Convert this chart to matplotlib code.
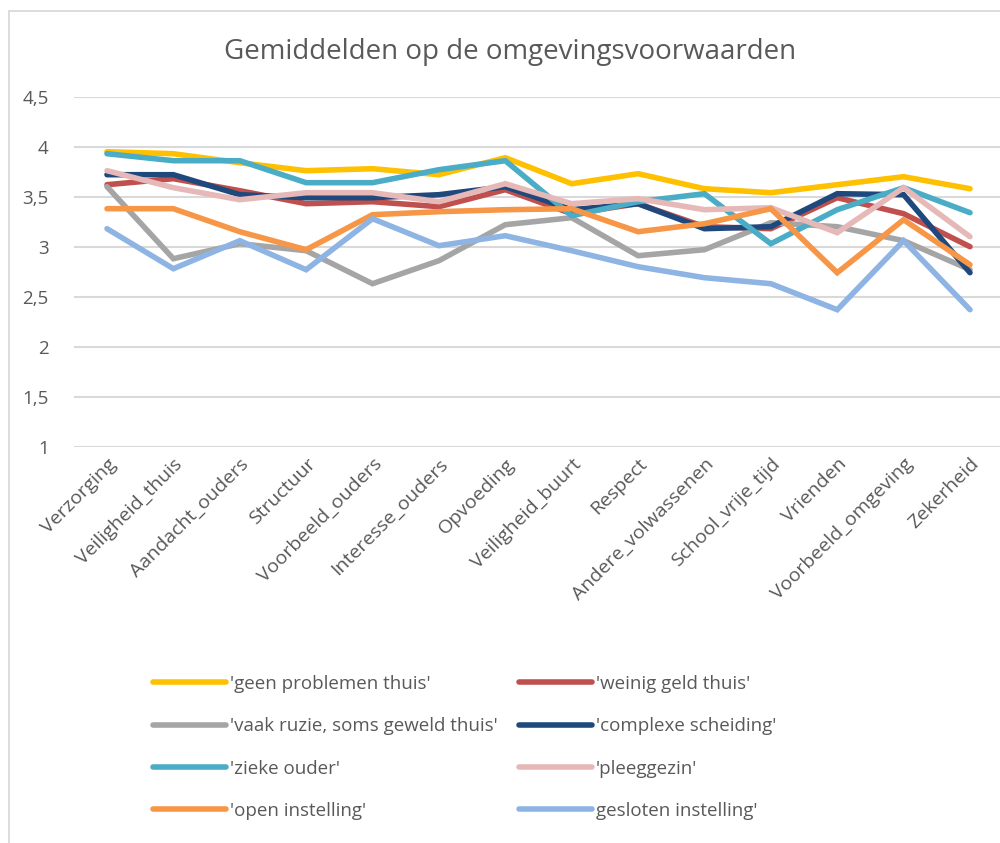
import matplotlib
matplotlib.use("Agg")
import matplotlib.pyplot as plt
from matplotlib.patches import Rectangle

plt.rcParams['font.family'] = ['Open Sans', 'DejaVu Sans']

categories = ['Verzorging', 'Veiligheid_thuis', 'Aandacht_ouders', 'Structuur',
              'Voorbeeld_ouders', 'Interesse_ouders', 'Opvoeding', 'Veiligheid_buurt',
              'Respect', 'Andere_volwassenen', 'School_vrije_tijd', 'Vrienden',
              'Voorbeeld_omgeving', 'Zekerheid']

geen_problemen = [3.95, 3.93, 3.84, 3.76, 3.78, 3.72, 3.89, 3.63, 3.73, 3.58, 3.54, 3.62, 3.70, 3.58]
weinig_geld    = [3.62, 3.68, 3.56, 3.43, 3.45, 3.40, 3.57, 3.33, 3.43, 3.20, 3.18, 3.49, 3.33, 3.00]
vaak_ruzie     = [3.60, 2.88, 3.03, 2.96, 2.63, 2.86, 3.22, 3.29, 2.91, 2.97, 3.24, 3.20, 3.06, 2.77]
complexe_sch   = [3.72, 3.72, 3.52, 3.49, 3.49, 3.52, 3.60, 3.37, 3.43, 3.18, 3.20, 3.53, 3.52, 2.74]
zieke_ouder    = [3.93, 3.86, 3.86, 3.64, 3.64, 3.77, 3.86, 3.31, 3.45, 3.53, 3.03, 3.37, 3.59, 3.34]
pleeggezin     = [3.76, 3.59, 3.47, 3.54, 3.54, 3.45, 3.63, 3.43, 3.48, 3.37, 3.39, 3.14, 3.59, 3.10]
open_inst      = [3.38, 3.38, 3.15, 2.97, 3.32, 3.35, 3.37, 3.38, 3.15, 3.23, 3.38, 2.74, 3.27, 2.82]
gesloten_inst  = [3.18, 2.78, 3.06, 2.77, 3.28, 3.01, 3.11, 2.96, 2.80, 2.69, 2.63, 2.37, 3.06, 2.37]

series = [
    ("'geen problemen thuis'", geen_problemen, '#FFC000'),
    ("'weinig geld thuis'", weinig_geld, '#C0504D'),
    ("'vaak ruzie, soms geweld thuis'", vaak_ruzie, '#A5A5A5'),
    ("'complexe scheiding'", complexe_sch, '#1F497D'),
    ("'zieke ouder'", zieke_ouder, '#4BACC6'),
    ("'pleeggezin'", pleeggezin, '#E6B9B8'),
    ("'open instelling'", open_inst, '#F79646'),
    ("gesloten instelling'", gesloten_inst, '#8EB4E3'),
]

W, H = 1000, 843
fig = plt.figure(figsize=(W / 100, H / 100), dpi=100)

# chart frame
fig.patches.append(Rectangle((8.5 / W, -0.1), 1.2, 1.1 - 11.5 / H, transform=fig.transFigure,
                             fill=False, edgecolor='#D9D9D9', linewidth=1.3))

ax = fig.add_axes([73.8 / W, (H - 446.7) / H, 929.4 / W, 350 / H])
x = list(range(len(categories)))
for name, vals, col in series:
    ax.plot(x, vals, color=col, linewidth=4, label=name, solid_capstyle='round',
            solid_joinstyle='miter')

ax.set_xlim(-0.5, len(categories) - 0.5)
ax.set_ylim(1, 4.5)
ax.set_yticks([1, 1.5, 2, 2.5, 3, 3.5, 4, 4.5])
ax.set_yticklabels(['1', '1,5', '2', '2,5', '3', '3,5', '4', '4,5'])
ax.set_xticks(x)
ax.set_xticklabels(categories, rotation=45, ha='right', rotation_mode='anchor')
ax.tick_params(axis='both', length=0, colors='#595959')
ax.tick_params(axis='y', pad=18, labelsize=13.5)
ax.tick_params(axis='x', pad=6, labelsize=14)
for s in ax.spines.values():
    s.set_visible(False)
ax.grid(axis='y', color='#D9D9D9', linewidth=1.5)
ax.set_axisbelow(True)

fig.text(0.51, (H - 52) / H, 'Gemiddelden op de omgevingsvoorwaarden', ha='center', va='center',
         fontsize=20, color='#595959')

handles, labels = ax.get_legend_handles_labels()
order = [0, 2, 4, 6, 1, 3, 5, 7]
leg = fig.legend([handles[i] for i in order], [labels[i] for i in order], ncol=2, loc='upper left',
                 bbox_to_anchor=(136 / W, (H - 658) / H), frameon=False,
                 fontsize=13.5, labelcolor='#595959', handlelength=3.9,
                 handletextpad=0.2, columnspacing=1.15, labelspacing=1.3)

fig.savefig('out.png', dpi=100)
